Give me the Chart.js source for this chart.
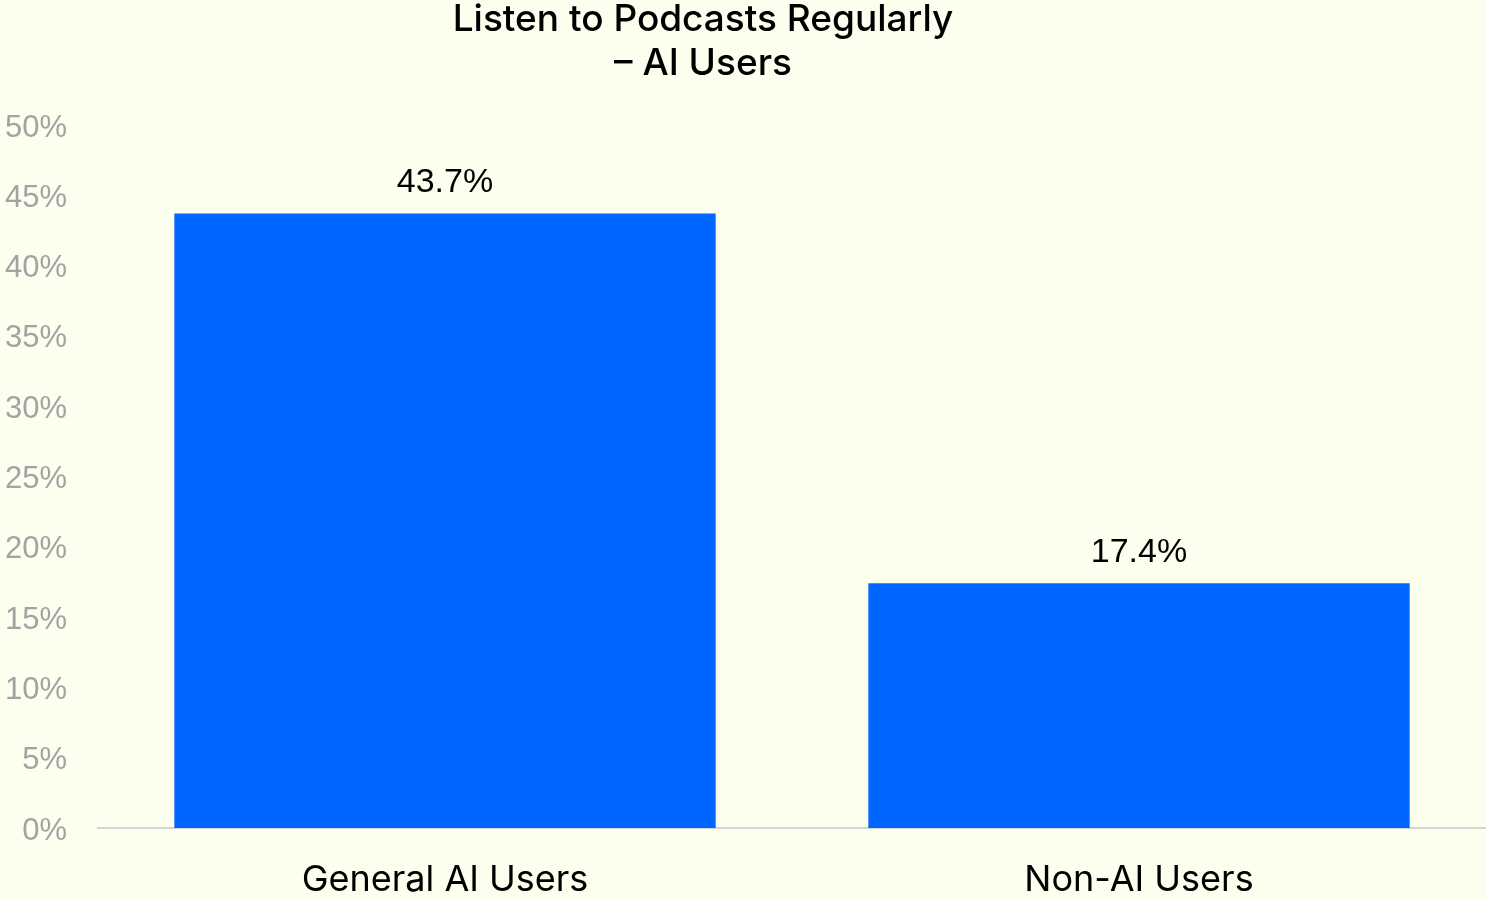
<!DOCTYPE html>
<html>
<head>
<meta charset="utf-8">
<script src="https://cdn.jsdelivr.net/npm/chart.js@4"></script>
<style>
  html, body { margin: 0; padding: 0; background: #fcfeee; }
  #wrap { position: relative; width: 1486px; height: 900px; }
  #title {
    position: absolute; left: 403px; top: -4px; width: 600px;
    text-align: center; font-family: Inter, "Noto Sans", sans-serif;
    font-weight: 500; font-size: 37px; line-height: 44px; color: #000;
  }
  canvas { position: absolute; left: 0; top: 0; }
</style>
</head>
<body>
<div id="wrap">
  <canvas id="chart" width="1486" height="900"></canvas>
  <div id="title">Listen to Podcasts Regularly<br>– AI Users</div>
</div>
<script>
const categories = ['General AI Users', 'Non-AI Users'];
const values = [43.7, 17.4];
const yMax = 50;
const yStep = 5;

// draw the value above each bar
const valueLabels = {
    id: 'valueLabels',
    afterDatasetsDraw(chart) {
        const ctx = chart.ctx;
        const meta = chart.getDatasetMeta(0);
        ctx.save();
        ctx.font = '34px "Liberation Sans", Arial, sans-serif';
        ctx.fillStyle = '#000';
        ctx.textAlign = 'center';
        ctx.textBaseline = 'middle';
        meta.data.forEach((bar, i) => {
            ctx.fillText(values[i].toFixed(1) + '%', bar.x, bar.y - 31);
        });
        ctx.restore();
    }
};

const ctx = document.getElementById('chart').getContext('2d');
const chart = new Chart(ctx, {
    type: 'bar',
    data: {
        labels: categories,
        datasets: [{
            data: values,
            backgroundColor: '#0066ff',
            borderWidth: 0,
            categoryPercentage: 0.78,
            barPercentage: 1
        }]
    },
    options: {
        responsive: false,
        animation: false,
        layout: { padding: { top: 125, right: 0, bottom: 0, left: 0 } },
        plugins: {
            legend: { display: false },
            tooltip: { enabled: false }
        },
        scales: {
            x: {
                grid: { display: false, drawTicks: false },
                border: { display: true, color: '#d4d4d4', width: 2 },
                ticks: {
                    color: '#000',
                    padding: 31,
                    font: { family: 'Inter, "Noto Sans", sans-serif', size: 36 }
                },
                afterFit(scale) { scale.height = 72; }
            },
            y: {
                min: 0,
                max: yMax,
                grid: { display: false, drawTicks: false },
                border: { display: false },
                ticks: {
                    stepSize: yStep,
                    color: '#a3a3a3',
                    padding: 31,
                    labelOffset: 3,
                    font: { family: '"Liberation Sans", Arial, sans-serif', size: 31 },
                    callback: v => v + '%'
                },
                afterFit(scale) { scale.width = 98; }
            }
        }
    },
    plugins: [valueLabels]
});
</script>
</body>
</html>
